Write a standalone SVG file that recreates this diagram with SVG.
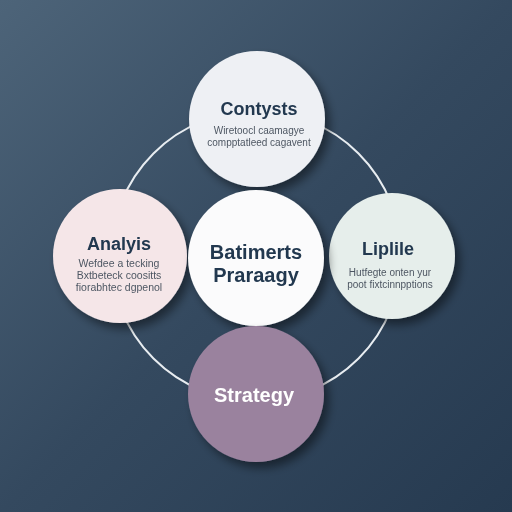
<svg xmlns="http://www.w3.org/2000/svg" width="512" height="512" viewBox="0 0 512 512">
<defs>
<linearGradient id="bg" x1="0" y1="0" x2="1" y2="1">
<stop offset="0" stop-color="#4d6479"/>
<stop offset="0.5" stop-color="#34495f"/>
<stop offset="1" stop-color="#263a50"/>
</linearGradient>
<filter id="sh" x="-30%" y="-30%" width="170%" height="170%">
<feGaussianBlur in="SourceAlpha" stdDeviation="5"/>
<feOffset dx="5" dy="6" result="b"/>
<feComponentTransfer><feFuncA type="linear" slope="0.45"/></feComponentTransfer>
<feMerge><feMergeNode/><feMergeNode in="SourceGraphic"/></feMerge>
</filter>
<style>
.t{font-family:"Liberation Sans",Arial,sans-serif;font-weight:bold;fill:#22384f;text-anchor:middle}
.s{font-family:"Liberation Sans",Arial,sans-serif;font-size:10px;fill:#4e5763;text-anchor:middle}
</style>
</defs>
<rect width="512" height="512" fill="url(#bg)"/>
<g id="connectors">
<circle cx="256" cy="256" r="145" fill="none" stroke="#e8edf1" stroke-width="2"/>
</g>
<g id="top" filter="url(#sh)">
<circle cx="257" cy="119" r="68" fill="#eef0f4"/>
<text class="t" x="259" y="115" font-size="18">Contysts</text>
<text class="s" x="259" y="134">Wiretoocl caamagye</text>
<text class="s" x="259" y="146">compptatleed cagavent</text>
</g>
<g id="left" filter="url(#sh)">
<circle cx="120" cy="256" r="67" fill="#f5e6e8"/>
<text class="t" x="119" y="250" font-size="18">Analyis</text>
<text class="s" x="119" y="267" style="font-size:10.5px">Wefdee a tecking</text>
<text class="s" x="119" y="279" style="font-size:10.5px">Bxtbeteck coositts</text>
<text class="s" x="119" y="291" style="font-size:10.5px">fiorabhtec dgpenol</text>
</g>
<g id="right" filter="url(#sh)">
<circle cx="392" cy="256" r="63" fill="#e6eeeb"/>
<text class="t" x="388" y="255" font-size="18">Liplile</text>
<text class="s" x="390" y="276">Hutfegte onten yur</text>
<text class="s" x="390" y="288">poot fixtcinnpptions</text>
</g>
<g id="center" filter="url(#sh)">
<circle cx="256" cy="258" r="68" fill="#fbfbfc"/>
<text class="t" x="256" y="259" font-size="20">Batimerts</text>
<text class="t" x="256" y="282" font-size="20">Praraagy</text>
</g>
<g id="bottom" filter="url(#sh)">
<circle cx="256" cy="394" r="68" fill="#9a829e"/>
<text class="t" x="254" y="402" font-size="20" style="fill:#ffffff">Strategy</text>
</g>
</svg>
